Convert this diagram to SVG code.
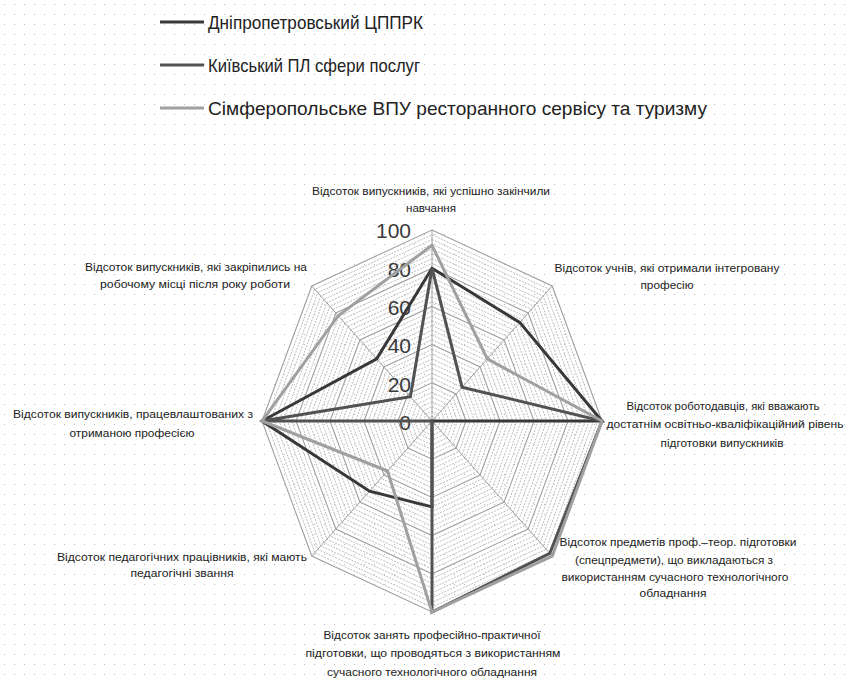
<svg xmlns="http://www.w3.org/2000/svg" xmlns:xlink="http://www.w3.org/1999/xlink" width="847" height="682" viewBox="0 0 847 682">
<style>
.lbl{font-family:"Liberation Sans",Arial,sans-serif;font-size:10.5px;fill:#222222;text-anchor:middle}
.leg{font-family:"Liberation Sans",Arial,sans-serif;font-size:18.5px;fill:#222222}
.tick{font-family:"Liberation Sans",Arial,sans-serif;font-size:21px;fill:#3a3a3a;text-anchor:end}
.minor{fill:none;stroke:#b4b4b4;stroke-width:0.9;stroke-dasharray:2 1.2}
.major{fill:none;stroke:#a0a0a0;stroke-width:1.1}
.spoke{stroke:#a0a0a0;stroke-width:1}
.s1{fill:none;stroke:#383838;stroke-width:3;stroke-linejoin:miter}
.s2{fill:none;stroke:#525252;stroke-width:3;stroke-linejoin:miter}
.s3{fill:none;stroke:#a0a0a0;stroke-width:3;stroke-linejoin:miter}
</style>
<defs>
<pattern id="dots" width="10" height="10" patternUnits="userSpaceOnUse">
<rect x="4" y="4" width="1" height="1" fill="#b8b8b8"/>
</pattern>
<polygon id="oct" vector-effect="non-scaling-stroke" points="0,-1 0.7071,-0.7071 1,0 0.7071,0.7071 0,1 -0.7071,0.7071 -1,0 -0.7071,-0.7071"/>
</defs>
<rect width="847" height="682" fill="#ffffff"/>
<rect width="847" height="682" fill="url(#dots)"/>

<g id="legend">
<line x1="160" y1="22" x2="204" y2="22" class="s1" stroke-width="4"/>
<text class="leg" x="208" y="29" textLength="215" lengthAdjust="spacingAndGlyphs">Дніпропетровський ЦППРК</text>
<line x1="160" y1="65" x2="204" y2="65" class="s2" stroke-width="4"/>
<text class="leg" x="208" y="72" textLength="212" lengthAdjust="spacingAndGlyphs">Київський ПЛ сфери послуг</text>
<line x1="160" y1="108" x2="204" y2="108" class="s3" stroke-width="4"/>
<text class="leg" x="208" y="115" textLength="499" lengthAdjust="spacingAndGlyphs">Сімферопольське ВПУ ресторанного сервісу та туризму</text>
</g>

<g id="grid" transform="translate(432,421)">
<use xlink:href="#oct" class="minor" transform="scale(4.25,4.775)"/>
<use xlink:href="#oct" class="minor" transform="scale(8.5,9.55)"/>
<use xlink:href="#oct" class="minor" transform="scale(12.75,14.325)"/>
<use xlink:href="#oct" class="minor" transform="scale(17,19.1)"/>
<use xlink:href="#oct" class="minor" transform="scale(21.25,23.875)"/>
<use xlink:href="#oct" class="minor" transform="scale(25.5,28.65)"/>
<use xlink:href="#oct" class="minor" transform="scale(29.75,33.425)"/>
<use xlink:href="#oct" class="minor" transform="scale(38.25,42.975)"/>
<use xlink:href="#oct" class="minor" transform="scale(42.5,47.75)"/>
<use xlink:href="#oct" class="minor" transform="scale(46.75,52.525)"/>
<use xlink:href="#oct" class="minor" transform="scale(51,57.3)"/>
<use xlink:href="#oct" class="minor" transform="scale(55.25,62.075)"/>
<use xlink:href="#oct" class="minor" transform="scale(59.5,66.85)"/>
<use xlink:href="#oct" class="minor" transform="scale(63.75,71.625)"/>
<use xlink:href="#oct" class="minor" transform="scale(72.25,81.175)"/>
<use xlink:href="#oct" class="minor" transform="scale(76.5,85.95)"/>
<use xlink:href="#oct" class="minor" transform="scale(80.75,90.725)"/>
<use xlink:href="#oct" class="minor" transform="scale(85,95.5)"/>
<use xlink:href="#oct" class="minor" transform="scale(89.25,100.275)"/>
<use xlink:href="#oct" class="minor" transform="scale(93.5,105.05)"/>
<use xlink:href="#oct" class="minor" transform="scale(97.75,109.825)"/>
<use xlink:href="#oct" class="minor" transform="scale(106.25,119.375)"/>
<use xlink:href="#oct" class="minor" transform="scale(110.5,124.15)"/>
<use xlink:href="#oct" class="minor" transform="scale(114.75,128.925)"/>
<use xlink:href="#oct" class="minor" transform="scale(119,133.7)"/>
<use xlink:href="#oct" class="minor" transform="scale(123.25,138.475)"/>
<use xlink:href="#oct" class="minor" transform="scale(127.5,143.25)"/>
<use xlink:href="#oct" class="minor" transform="scale(131.75,148.025)"/>
<use xlink:href="#oct" class="minor" transform="scale(140.25,157.575)"/>
<use xlink:href="#oct" class="minor" transform="scale(144.5,162.35)"/>
<use xlink:href="#oct" class="minor" transform="scale(148.75,167.125)"/>
<use xlink:href="#oct" class="minor" transform="scale(153,171.9)"/>
<use xlink:href="#oct" class="minor" transform="scale(157.25,176.675)"/>
<use xlink:href="#oct" class="minor" transform="scale(161.5,181.45)"/>
<use xlink:href="#oct" class="minor" transform="scale(165.75,186.225)"/>
<use xlink:href="#oct" class="major" transform="scale(34,38.2)"/>
<use xlink:href="#oct" class="major" transform="scale(68,76.4)"/>
<use xlink:href="#oct" class="major" transform="scale(102,114.6)"/>
<use xlink:href="#oct" class="major" transform="scale(136,152.8)"/>
<use xlink:href="#oct" class="major" transform="scale(170,191)"/>
<line class="spoke" x1="0" y1="0" x2="0" y2="-191"/>
<line class="spoke" x1="0" y1="0" x2="120.2" y2="-135.06"/>
<line class="spoke" x1="0" y1="0" x2="170" y2="0"/>
<line class="spoke" x1="0" y1="0" x2="120.2" y2="135.06"/>
<line class="spoke" x1="0" y1="0" x2="0" y2="191"/>
<line class="spoke" x1="0" y1="0" x2="-120.2" y2="135.06"/>
<line class="spoke" x1="0" y1="0" x2="-170" y2="0"/>
<line class="spoke" x1="0" y1="0" x2="-120.2" y2="-135.06"/>
</g>

<g id="ticks">
<text class="tick" x="411" y="238">100</text>
<text class="tick" x="411" y="277">80</text>
<text class="tick" x="411" y="315">60</text>
<text class="tick" x="411" y="353">40</text>
<text class="tick" x="411" y="392">20</text>
<text class="tick" x="411" y="430">0</text>
</g>

<g id="connectors">
<polygon id="series-dnipro" class="s1" points="432,268.2 519.7,322.4 602,421 432,421 432,506.95 369.5,491.2 262,421 376.7,358.9"/>
<polygon id="series-kyiv" class="s2" points="432,268.2 462.05,387.2 602,421 549.8,553.4 432,612 432,421 262,421 410.4,396.7"/>
<polygon id="series-simf" class="s3" points="432,245.3 487.3,358.9 602,421 552.2,556.1 432,612 387.5,471 262,421 338.2,315.7"/>
</g>

<g id="axis-labels">
<g id="lbl-0">
<text class="lbl" x="431" y="195" textLength="238" lengthAdjust="spacingAndGlyphs">Відсоток випускників, які успішно закінчили</text>
<text class="lbl" x="431" y="212" textLength="50" lengthAdjust="spacingAndGlyphs">навчання</text>
</g>
<g id="lbl-1">
<text class="lbl" x="667" y="272" textLength="225" lengthAdjust="spacingAndGlyphs">Відсоток учнів, які отримали інтегровану</text>
<text class="lbl" x="667" y="289" textLength="53" lengthAdjust="spacingAndGlyphs">професію</text>
</g>
<g id="lbl-2">
<text class="lbl" x="723" y="410" textLength="193" lengthAdjust="spacingAndGlyphs">Відсоток роботодавців, які вважають</text>
<text class="lbl" x="725" y="428" textLength="237" lengthAdjust="spacingAndGlyphs">достатнім освітньо-кваліфікаційний рівень</text>
<text class="lbl" x="722" y="447" textLength="123" lengthAdjust="spacingAndGlyphs">підготовки випускників</text>
</g>
<g id="lbl-3">
<text class="lbl" x="678" y="546" textLength="237" lengthAdjust="spacingAndGlyphs">Відсоток предметів проф.–теор. підготовки</text>
<text class="lbl" x="674" y="564" textLength="198" lengthAdjust="spacingAndGlyphs">(спецпредмети), що викладаються з</text>
<text class="lbl" x="675" y="581" textLength="227" lengthAdjust="spacingAndGlyphs">використанням сучасного технологічного</text>
<text class="lbl" x="673" y="597" textLength="67" lengthAdjust="spacingAndGlyphs">обладнання</text>
</g>
<g id="lbl-4">
<text class="lbl" x="432" y="639" textLength="217" lengthAdjust="spacingAndGlyphs">Відсоток занять професійно-практичної</text>
<text class="lbl" x="433" y="657" textLength="255" lengthAdjust="spacingAndGlyphs">підготовки, що проводяться з використанням</text>
<text class="lbl" x="432" y="676" textLength="210" lengthAdjust="spacingAndGlyphs">сучасного технологічного обладнання</text>
</g>
<g id="lbl-5">
<text class="lbl" x="182" y="561" textLength="250" lengthAdjust="spacingAndGlyphs">Відсоток педагогічних працівників, які  мають</text>
<text class="lbl" x="182" y="577" textLength="103" lengthAdjust="spacingAndGlyphs">педагогічні звання</text>
</g>
<g id="lbl-6">
<text class="lbl" x="133" y="418" textLength="240" lengthAdjust="spacingAndGlyphs">Відсоток випускників, працевлаштованих з</text>
<text class="lbl" x="132" y="437" textLength="125" lengthAdjust="spacingAndGlyphs">отриманою професією</text>
</g>
<g id="lbl-7">
<text class="lbl" x="196" y="271" textLength="222" lengthAdjust="spacingAndGlyphs">Відсоток випускників, які закріпились на</text>
<text class="lbl" x="195" y="288" textLength="190" lengthAdjust="spacingAndGlyphs">робочому місці після року роботи</text>
</g>
</g>
</svg>
